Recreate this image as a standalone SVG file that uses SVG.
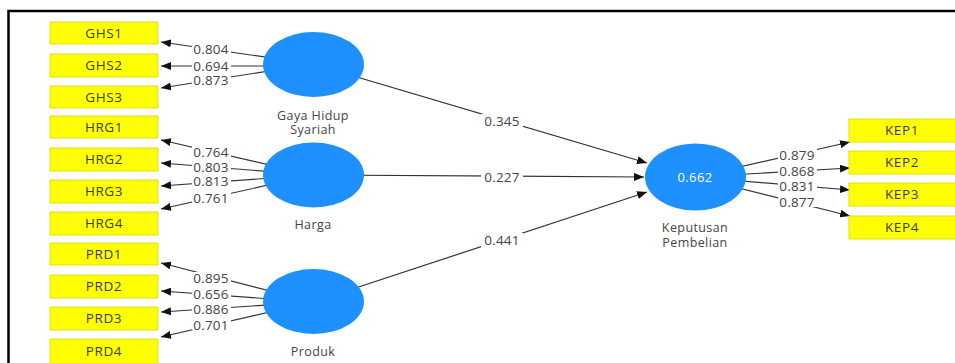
<svg xmlns="http://www.w3.org/2000/svg" width="955" height="363" viewBox="0 0 955 363">
<defs>
<marker id="ah" viewBox="0 0 10 8" refX="10" refY="4" markerWidth="10" markerHeight="8" markerUnits="userSpaceOnUse" orient="auto">
<path d="M0,0 L10,4 L0,8 Z" fill="#111"/>
</marker>
<style>
.frame{stroke:#000;stroke-width:2.5;fill:none}
.ind rect{fill:#ffff00;stroke:#dede20;stroke-width:1}
.ind text{font-family:"Open Sans","Noto Sans",sans-serif;font-size:13.5px;fill:#3a3a3a;text-anchor:middle;letter-spacing:0.6px}
.lat ellipse{fill:#1e90ff}
.lat text{font-family:"Open Sans","Noto Sans",sans-serif;font-size:12.5px;fill:#444;text-anchor:middle;letter-spacing:0.4px}
.lat text.r2{fill:#fff;font-size:13px}
.edge line{stroke:#333;stroke-width:1.2;marker-end:url(#ah)}
.bg rect{fill:#fff}
.lbl text{font-family:"Open Sans","Noto Sans",sans-serif;font-size:13.5px;fill:#444;text-anchor:middle;letter-spacing:0.2px}
</style>
</defs>
<rect width="955" height="363" fill="#fff"/>
<path class="frame" d="M8.5,363 V11 H955"/>

<g id="connectors">
<g class="edge">
<line x1="313" y1="64" x2="161" y2="42"/>
<line x1="313" y1="66" x2="161" y2="66"/>
<line x1="313" y1="64" x2="161" y2="88"/>
<line x1="313" y1="175" x2="161" y2="140"/>
<line x1="313" y1="175" x2="161" y2="163"/>
<line x1="313" y1="175" x2="161" y2="186"/>
<line x1="313" y1="175" x2="161" y2="209"/>
<line x1="313" y1="302" x2="161" y2="263"/>
<line x1="313" y1="302" x2="161" y2="291"/>
<line x1="313" y1="302" x2="161" y2="312"/>
<line x1="313" y1="302" x2="161" y2="337"/>
<line x1="695" y1="177" x2="850" y2="142"/>
<line x1="695" y1="177" x2="850" y2="168"/>
<line x1="695" y1="177" x2="850" y2="190"/>
<line x1="695" y1="177" x2="850" y2="216"/>
<line x1="313" y1="64" x2="647" y2="163"/>
<line x1="313" y1="175" x2="644" y2="177"/>
<line x1="313" y1="302" x2="647" y2="192"/>
</g>
<g class="bg">
<rect x="192" y="43" width="39" height="11"/>
<rect x="192" y="61" width="39" height="11"/>
<rect x="192" y="75" width="39" height="11"/>
<rect x="192" y="146" width="39" height="11"/>
<rect x="192" y="162" width="39" height="11"/>
<rect x="192" y="176" width="39" height="11"/>
<rect x="192" y="192" width="39" height="11"/>
<rect x="192" y="272" width="39" height="11"/>
<rect x="192" y="289" width="39" height="11"/>
<rect x="192" y="304" width="39" height="11"/>
<rect x="192" y="319" width="39" height="11"/>
<rect x="778" y="149" width="39" height="11"/>
<rect x="778" y="166" width="39" height="11"/>
<rect x="778" y="181" width="39" height="11"/>
<rect x="778" y="196" width="39" height="11"/>
<rect x="481" y="114" width="42" height="14"/>
<rect x="481" y="170" width="42" height="14"/>
<rect x="481" y="233" width="42" height="14"/>
</g>
<g class="lbl">
<text x="211" y="53.5">0.804</text>
<text x="211" y="70.5">0.694</text>
<text x="211" y="84.5">0.873</text>
<text x="211" y="156.5">0.764</text>
<text x="211" y="171.5">0.803</text>
<text x="211" y="185.5">0.813</text>
<text x="211" y="202.5">0.761</text>
<text x="211" y="282.5">0.895</text>
<text x="211" y="298.5">0.656</text>
<text x="211" y="313.5">0.886</text>
<text x="211" y="329.5">0.701</text>
<text x="797" y="159.5">0.879</text>
<text x="797" y="175.5">0.868</text>
<text x="797" y="190.5">0.831</text>
<text x="797" y="206.5">0.877</text>
<text x="502" y="125.5">0.345</text>
<text x="502" y="181.5">0.227</text>
<text x="502" y="244.5">0.441</text>
</g>
</g>

<g id="GHS1" class="ind"><rect x="50" y="22" width="108" height="22"/><text x="104" y="38">GHS1</text></g>
<g id="GHS2" class="ind"><rect x="50" y="54" width="108" height="23"/><text x="104" y="70">GHS2</text></g>
<g id="GHS3" class="ind"><rect x="50" y="86" width="108" height="22"/><text x="104" y="102">GHS3</text></g>
<g id="HRG1" class="ind"><rect x="50" y="116" width="108" height="22"/><text x="104" y="132">HRG1</text></g>
<g id="HRG2" class="ind"><rect x="50" y="148" width="108" height="23"/><text x="104" y="164">HRG2</text></g>
<g id="HRG3" class="ind"><rect x="50" y="180" width="108" height="23"/><text x="104" y="196">HRG3</text></g>
<g id="HRG4" class="ind"><rect x="50" y="212" width="108" height="23"/><text x="104" y="228">HRG4</text></g>
<g id="PRD1" class="ind"><rect x="50" y="243" width="108" height="22"/><text x="104" y="259">PRD1</text></g>
<g id="PRD2" class="ind"><rect x="50" y="275" width="108" height="23"/><text x="104" y="291">PRD2</text></g>
<g id="PRD3" class="ind"><rect x="50" y="307" width="108" height="23"/><text x="104" y="323">PRD3</text></g>
<g id="PRD4" class="ind"><rect x="50" y="339" width="108" height="26"/><text x="104" y="356">PRD4</text></g>
<g id="KEP1" class="ind"><rect x="849" y="119" width="110" height="23"/><text x="902" y="135">KEP1</text></g>
<g id="KEP2" class="ind"><rect x="849" y="151" width="110" height="23"/><text x="902" y="167">KEP2</text></g>
<g id="KEP3" class="ind"><rect x="849" y="183" width="110" height="23"/><text x="902" y="199">KEP3</text></g>
<g id="KEP4" class="ind"><rect x="849" y="216" width="110" height="23"/><text x="902" y="232">KEP4</text></g>

<g id="GayaHidupSyariah" class="lat"><ellipse cx="313.5" cy="64.5" rx="50.5" ry="32.5"/><text x="313" y="120">Gaya Hidup</text><text x="313" y="134">Syariah</text></g>
<g id="Harga" class="lat"><ellipse cx="313.5" cy="175" rx="50.5" ry="32.5"/><text x="313" y="229">Harga</text></g>
<g id="Produk" class="lat"><ellipse cx="313.5" cy="301.5" rx="50.5" ry="32.5"/><text x="313" y="356">Produk</text></g>
<g id="KeputusanPembelian" class="lat"><ellipse cx="695.5" cy="177" rx="50.5" ry="33.5"/><text class="r2" x="695" y="181.5">0.662</text><text x="695" y="232">Keputusan</text><text x="695" y="247">Pembelian</text></g>
</svg>
